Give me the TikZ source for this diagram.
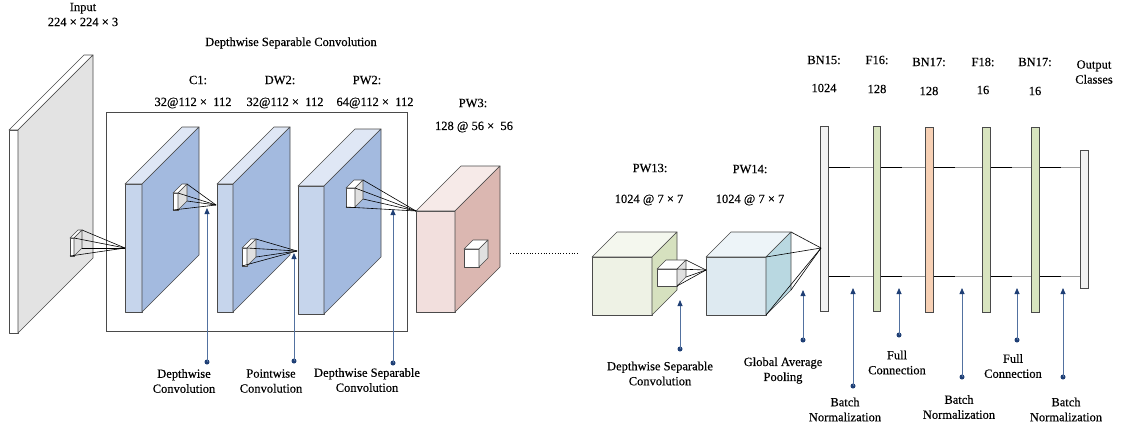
\documentclass[tikz,border=0pt]{standalone}
\usepackage{fontspec}
\setmainfont{Liberation Serif}[FakeBold=0.35]
\usetikzlibrary{arrows.meta}

\definecolor{edgegray}{HTML}{4A4A4A}
\definecolor{bluefront}{HTML}{C6D5EC}
\definecolor{blueside}{HTML}{A3BADF}
\definecolor{bluetop}{HTML}{DFE7F5}
\definecolor{inputside}{HTML}{E3E3E3}
\definecolor{pinkfront}{HTML}{F2DFDD}
\definecolor{pinkside}{HTML}{DBB7B1}
\definecolor{pinktop}{HTML}{F6EAE8}
\definecolor{greenfront}{HTML}{EEF2E5}
\definecolor{greenside}{HTML}{D6E1BF}
\definecolor{greentop}{HTML}{F4F7EE}
\definecolor{cyanfront}{HTML}{DEEAF1}
\definecolor{cyanside}{HTML}{B9D8E1}
\definecolor{cyantop}{HTML}{EDF4F8}
\definecolor{kernelside}{HTML}{E0E0E0}
\definecolor{notecol}{HTML}{5271A0}
\definecolor{navy}{HTML}{1F3F75}
\definecolor{barlight}{HTML}{F2F2F2}
\definecolor{bargreen}{HTML}{D8E4BF}
\definecolor{barorange}{HTML}{F7D0B4}
\definecolor{linkgray}{HTML}{9A9A9A}

% block with front face (x1,y1)-(x2,y2), depth d towards the upper right
% #1 name, #2 x1, #3 y1, #4 x2, #5 y2, #6 d, #7 front, #8 side, #9 top
\newcommand\drawblock[9]{%
  \coordinate (#1-ftl) at (#2,#3);
  \coordinate (#1-ftr) at (#4,#3);
  \coordinate (#1-fbl) at (#2,#5);
  \coordinate (#1-fbr) at (#4,#5);
  \coordinate (#1-btl) at ({#2+#6},{#3-#6});
  \coordinate (#1-btr) at ({#4+#6},{#3-#6});
  \coordinate (#1-bbr) at ({#4+#6},{#5-#6});
  \filldraw[face,fill=#7] (#1-ftl) rectangle (#1-fbr);
  \filldraw[face,fill=#9] (#1-ftl) -- (#1-btl) -- (#1-btr) -- (#1-ftr) -- cycle;
  \filldraw[face,fill=#8] (#1-ftr) -- (#1-btr) -- (#1-bbr) -- (#1-fbr) -- cycle;
}

\begin{document}
\begin{tikzpicture}[x=1pt,y=-1pt,
  face/.style={draw=edgegray,line width=0.6pt,line join=round},
  kernel/.style={draw=black,line width=0.6pt},
  note/.style={draw=notecol,line width=0.8pt,-{Triangle[length=6pt,width=5pt,color=navy]}},
  dot/.style={circle,fill=navy,inner sep=0pt,minimum size=5pt},
  lbl/.style={align=center,inner sep=0pt,font=\fontsize{12.5}{15}\selectfont},
  bar/.style={draw=edgegray,line width=0.6pt,minimum width=7.5pt,inner sep=0pt},
  link/.style={draw=linkgray,line width=1pt},
  linkdark/.style={draw=black,line width=1pt}]
\useasboundingbox (0,0) rectangle (1128,432);

% ---------- input image ----------
\drawblock{inp}{9}{130}{18}{333}{75}{white}{inputside}{white}
\drawblock{k0}{70}{238}{74}{256}{8}{white}{kernelside}{white}

% frame of the depthwise separable block
\node[draw=edgegray,line width=0.8pt,minimum width=301pt,minimum height=219pt,inner sep=0pt] (dsbox) at (256.5,221.5) {};

% ---------- first layers ----------
\drawblock{c1}{125}{184}{142}{312}{57}{bluefront}{blueside}{bluetop}
\drawblock{dw2}{217}{184}{233}{312}{57}{bluefront}{blueside}{bluetop}
\drawblock{pw2}{298}{186}{324}{314}{57}{bluefront}{blueside}{bluetop}
\drawblock{pw3}{416}{211}{455}{312}{45}{pinkfront}{pinkside}{pinktop}

% kernels on the layers
\drawblock{k1}{173}{193}{178}{210}{9}{white}{kernelside}{white}
\drawblock{k2}{242}{248}{247}{266}{9}{white}{kernelside}{white}
\drawblock{k3}{346}{188}{355}{207}{8}{white}{kernelside}{white}
\drawblock{k4}{464}{249}{479}{267}{9}{white}{kernelside}{white}

\coordinate (a0) at (125,248);
\coordinate (a1) at (216,205);
\coordinate (a2) at (297,251);
\foreach \k/\a in {k0/a0,k1/a1,k2/a2,k3/pw3-ftl}{
  \draw[kernel] (\k-btr) -- (\a);
  \draw[kernel] (\k-ftr) -- (\a);
  \draw[kernel] (\k-fbl) -- (\a);
  \draw[kernel] (\k-bbr) -- (\a);
}

% ---------- skipped layers ----------
\coordinate (gapl) at (510,253);
\coordinate (gapr) at (579,253);
\draw[line width=0.8pt,dotted] (gapl) -- (gapr);

% ---------- last convolution layers ----------
\drawblock{pw13}{592}{257}{652}{315}{25}{greenfront}{greenside}{greentop}
\drawblock{k5}{657}{269}{677}{286}{9}{white}{kernelside}{white}
\drawblock{pw14}{706}{257}{766}{315}{25}{cyanfront}{cyanside}{cyantop}
\coordinate (a5) at (706,270);
\foreach \c in {btr,ftr,fbr,bbr}{\draw[kernel] (k5-\c) -- (a5);}

% ---------- dense part ----------
\node[bar,fill=barlight,minimum height=185pt] (bn15) at (824.5,218.5) {};
\node[bar,fill=bargreen,minimum height=185pt] (f16) at (877,218.5) {};
\node[bar,fill=barorange,minimum height=185pt] (bn17a) at (929.5,219.5) {};
\node[bar,fill=bargreen,minimum height=185pt] (f18) at (986.5,219.5) {};
\node[bar,fill=bargreen,minimum height=185pt] (bn17b) at (1035.5,219.5) {};
\node[bar,fill=barlight,minimum height=138pt] (out) at (1084.5,219) {};

\coordinate (a6) at (821,248);
\foreach \c in {btr,ftr,fbr,bbr}{\draw[kernel] (pw14-\c) -- (a6);}

\coordinate (hup) at (0,167);
\coordinate (hdn) at (0,276);
\foreach \a/\b in {bn15/f16,f16/bn17a,bn17a/f18,f18/bn17b,bn17b/out}{
  \foreach \h in {hup,hdn}{
    \draw[link] (\a.east |- \h) -- (\b.west |- \h);
    \draw[linkdark] (\a.east |- \h) -- ++(21,0);
  }
}

% ---------- titles ----------
\node[lbl] (tin) at (83,14.5) {Input\\224 × 224 × 3};
\node[lbl] (tds) at (291,43) {Depthwise Separable Convolution};
\node[lbl] (tc1) at (198,80) {C1:};
\node[lbl] (tdw2) at (280,80) {DW2:};
\node[lbl] (tpw2) at (367,80) {PW2:};
\node[lbl] (sc1) at (193,103) {32@112 × \ 112};
\node[lbl] (sdw2) at (285,103) {32@112 × \ 112};
\node[lbl] (spw2) at (375,103) {64@112 × \ 112};
\node[lbl] (tpw3) at (473,103) {PW3:};
\node[lbl] (spw3) at (474,127) {128 @ 56 × \ 56};
\node[lbl] (tpw13) at (650,168) {PW13:};
\node[lbl] (spw13) at (649,200) {1024 @ 7 × 7};
\node[lbl] (tpw14) at (750,169) {PW14:};
\node[lbl] (spw14) at (750,200) {1024 @ 7 × 7};
\node[lbl] (tbn15) at (824,60) {BN15:};
\node[lbl] (sbn15) at (824,88) {1024};
\node[lbl] (tf16) at (877,60) {F16:};
\node[lbl] (sf16) at (877,89) {128};
\node[lbl] (tbn17a) at (929,62) {BN17:};
\node[lbl] (sbn17a) at (929,91) {128};
\node[lbl] (tf18) at (983,62) {F18:};
\node[lbl] (sf18) at (983,90) {16};
\node[lbl] (tbn17b) at (1035,62) {BN17:};
\node[lbl] (sbn17b) at (1035,91) {16};
\node[lbl] (tout) at (1094,72) {Output\\Classes};

% ---------- annotations ----------
\node[lbl] (n1) at (184,381) {Depthwise\\Convolution};
\node[lbl] (n2) at (271,381) {Pointwise\\Convolution};
\node[lbl] (n3) at (367,380) {Depthwise Separable\\Convolution};
\node[lbl] (n4) at (660,373.5) {Depthwise Separable\\Convolution};
\node[lbl] (n5) at (783,370.5) {Global Average\\Pooling};
\node[lbl] (n6) at (845,409.5) {Batch\\Normalization};
\node[lbl] (n7) at (897,362.5) {Full\\Connection};
\node[lbl] (n8) at (959,407) {Batch\\Normalization};
\node[lbl] (n9) at (1013,366) {Full\\Connection};
\node[lbl] (n10) at (1066,409.5) {Batch\\Normalization};

\foreach \i/\x/\yd/\yt in {1/207/362/208, 2/294/361/253, 3/393/363/209,
    4/680/349/300, 5/803/340/290, 6/853/386/288, 7/899/335/288,
    8/962/377/288, 9/1017/340/288, 10/1063/377/288}{
  \node[dot] (d\i) at (\x,\yd) {};
  \coordinate (t\i) at (\x,\yt);
  \draw[note] (d\i.center) -- (t\i);
}
\end{tikzpicture}
\end{document}
